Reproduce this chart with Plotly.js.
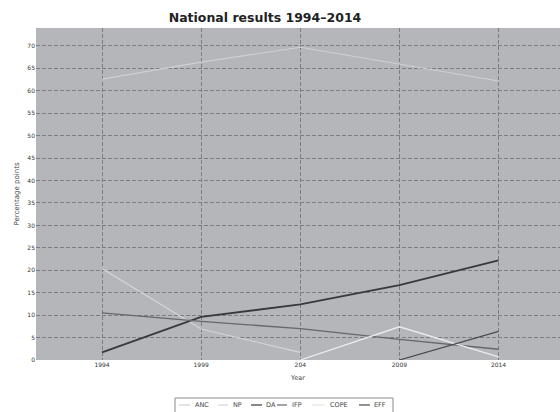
<!DOCTYPE html>
<html>
<head>
<meta charset="utf-8">
<script src="https://cdn.plot.ly/plotly-3.0.1.min.js"></script>
<style>html,body{margin:0;padding:0;background:#fff;}#chart{width:560px;height:412px;}</style>
</head>
<body>
<div id="chart"></div>
<script>
const years = [1994, 1999, 2004, 2009, 2014];
const tickLabels = ["1994", "1999", "204", "2009", "2014"];
const yTicks = [0,5,10,15,20,25,30,35,40,45,50,55,60,65,70];

const ancYears = [1994, 1999, 2004, 2009, 2014];
const ancValues = [62.6, 66.4, 69.7, 65.9, 62.2];
const npYears = [1994, 1999, 2004];
const npValues = [20.4, 6.9, 1.7];
const daYears = [1994, 1999, 2004, 2009, 2014];
const daValues = [1.7, 9.6, 12.4, 16.7, 22.2];
const ifpYears = [1994, 1999, 2004, 2009, 2014];
const ifpValues = [10.5, 8.6, 7.0, 4.6, 2.4];
const copeYears = [2004, 2009, 2014];
const copeValues = [0, 7.4, 0.7];
const effYears = [2009, 2014];
const effValues = [0, 6.4];

const seriesNames = ["ANC", "NP", "DA", "IFP", "COPE", "EFF"];
const series = [
  {name: "ANC", x: ancYears, y: ancValues, color: "#cfd0d4", width: 1.1},
  {name: "NP", x: npYears, y: npValues, color: "#d6d7da", width: 1.1},
  {name: "DA", x: daYears, y: daValues, color: "#38393b", width: 1.8},
  {name: "IFP", x: ifpYears, y: ifpValues, color: "#66676a", width: 1.3},
  {name: "COPE", x: copeYears, y: copeValues, color: "#ececee", width: 1.3},
  {name: "EFF", x: effYears, y: effValues, color: "#4a4b4e", width: 1.3}
];

const traces = series.map(s => ({
  type: "scatter", mode: "lines", name: s.name, x: s.x, y: s.y,
  line: {color: s.color, width: s.width}, showlegend: false
}));

// Plot area geometry (pixels) for the hand-drawn legend box
const W = 560, H = 412, ML = 36, MR = 0, MT = 28, MB = 52;
const pw = W - ML - MR, ph = H - MT - MB;
const px = v => (v - ML) / pw;
const py = v => (H - MB - v) / ph;

// legend layout: [lineStart, lineEnd, textStart] in px per entry
const legendPos = [[179,190,193],[218,228,231],[251,262,264],[277,287,290],[312,325,328],[359,370,372]];
const legendY = 405;

const shapes = [
  {type: "rect", xref: "paper", yref: "paper", x0: px(175), x1: px(393), y0: py(398), y1: py(418),
   line: {color: "#8a8a8a", width: 1}, fillcolor: "#ffffff", layer: "above"}
];
const annotations = [];
series.forEach((s, i) => {
  const p = legendPos[i];
  shapes.push({type: "line", xref: "paper", yref: "paper", x0: px(p[0]), x1: px(p[1]), y0: py(legendY), y1: py(legendY),
    line: {color: s.color === "#ececee" ? "#e6e6e8" : s.color, width: 1.2}, layer: "above"});
  annotations.push({xref: "paper", yref: "paper", x: px(p[2]), y: py(legendY), xanchor: "left", yanchor: "middle",
    text: seriesNames[i], showarrow: false, font: {size: 6.5, color: "#444"}});
});

const layout = {
  width: W, height: H,
  paper_bgcolor: "#ffffff",
  plot_bgcolor: "#b4b6ba",
  margin: {l: ML, r: MR, t: MT, b: MB},
  font: {family: "DejaVu Sans, sans-serif", size: 7, color: "#444"},
  title: {text: "<b>National results 1994\u20132014</b>", x: 265 / W, xref: "container", xanchor: "center", y: 1 - 18 / H, yref: "container", yanchor: "middle",
          font: {size: 12.5, color: "#222", family: "DejaVu Sans, sans-serif"}},
  xaxis: {
    range: [1990.67, 2017.1],
    tickvals: years, ticktext: tickLabels,
    showgrid: true, gridcolor: "#7c7d82", griddash: "4px,2px", gridwidth: 1,
    zeroline: false, showline: false, ticks: "",
    tickfont: {size: 6, color: "#333"},
    title: {text: "Year", font: {size: 6.5, color: "#444"}, standoff: 8}
  },
  yaxis: {
    range: [0, 74],
    tickvals: yTicks,
    showgrid: true, gridcolor: "#7c7d82", griddash: "4px,2px", gridwidth: 1,
    zeroline: false, showline: false, ticks: "",
    tickfont: {size: 6, color: "#333"},
    title: {text: "Percentage points", font: {size: 7, color: "#444"}, standoff: 6}
  },
  showlegend: false,
  shapes: shapes,
  annotations: annotations
};

Plotly.newPlot("chart", traces, layout, {displayModeBar: false, staticPlot: true});
</script>
</body>
</html>
